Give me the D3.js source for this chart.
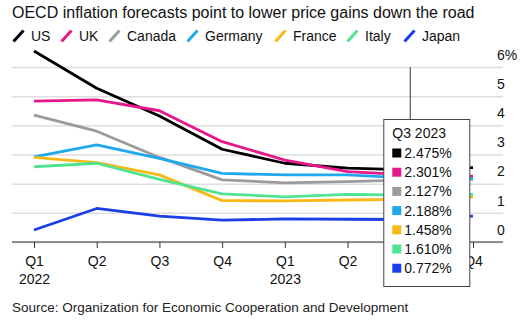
<!DOCTYPE html>
<html><head><meta charset="utf-8">
<script src="https://cdn.jsdelivr.net/npm/d3@7"></script>
<style>
body{margin:0;background:#fff;}
text{font-family:"Liberation Sans",Arial,Helvetica,sans-serif;}
</style></head>
<body>
<svg id="c" width="528" height="322"></svg>
<script>
const quarters = ["Q1 2022","Q2 2022","Q3 2022","Q4 2022","Q1 2023","Q2 2023","Q3 2023","Q4 2023"];
const tickTop = ["Q1","Q2","Q3","Q4","Q1","Q2","Q3","Q4"];
const tickBottom = ["2022","","","","2023","","",""];
const seriesNames = ["US","UK","Canada","Germany","France","Italy","Japan"];
const seriesColors = ["#000000","#e8178a","#9b9b9b","#1ea8ee","#f8b916","#4fe394","#1b3fe6"];
const US      = [6.55,5.27,4.32,3.18,2.70,2.53,2.475,2.55];
const UK      = [4.83,4.87,4.50,3.44,2.81,2.41,2.301,2.26];
const Canada  = [4.35,3.80,2.90,2.13,2.03,2.07,2.127,2.15];
const Germany = [2.92,3.33,2.87,2.35,2.30,2.30,2.188,2.18];
const France  = [2.90,2.72,2.30,1.42,1.41,1.44,1.458,1.55];
const Italy   = [2.58,2.70,2.15,1.65,1.55,1.63,1.610,1.63];
const Japan   = [0.41,1.15,0.89,0.75,0.79,0.78,0.772,0.89];
const yTicks = [0,1,2,3,4,5,6];
const hoverIndex = 6;
const seriesValues = [US,UK,Canada,Germany,France,Italy,Japan];

const svg = d3.select("#c");
const pLeft = 12, pRight = 503, pTop = 67, pBottom = 242;
const x = d3.scalePoint().domain(quarters).range([34,473]);
const y = d3.scaleLinear().domain([0,6]).range([pBottom, pTop]);

// title
svg.append("text").attr("x",12).attr("y",18).attr("font-size",16).attr("fill","#111")
  .text("OECD inflation forecasts point to lower price gains down the road");

// legend
const legendX = [12,60,108,186,274,346,403];
seriesNames.forEach((n,i)=>{
  const g = svg.append("g").attr("transform",`translate(${legendX[i]},36)`);
  g.append("line").attr("x1",1.5).attr("y1",5.5).attr("x2",11.5).attr("y2",-5.5)
    .attr("stroke",seriesColors[i]).attr("stroke-width",3);
  g.append("text").attr("x",19).attr("y",5).attr("font-size",14).attr("fill","#111").text(n);
});

// grid + y labels
const ya = svg.append("g").attr("transform",`translate(${pRight},0)`)
  .call(d3.axisRight(y).tickValues(yTicks).tickSize(-(pRight-pLeft))
    .tickFormat(d=> d===6 ? "6%" : String(d)));
ya.select(".domain").remove();
ya.selectAll(".tick line").attr("stroke","#dedede").attr("stroke-width",1.5);
ya.selectAll(".tick text").attr("x",-6).attr("dy","-0.55em").attr("text-anchor","start")
  .attr("font-size",14).attr("fill","#111").attr("font-family",'"Liberation Sans",Arial,sans-serif');

// x axis
const xa = svg.append("g").attr("transform",`translate(0,${pBottom})`)
  .call(d3.axisBottom(x).tickSize(6).tickFormat(()=>""));
xa.select(".domain").remove();
xa.selectAll(".tick line").attr("stroke","#333").attr("stroke-width",1);
xa.selectAll(".tick").each(function(d,i){
  if (i === hoverIndex) return; // hidden behind the tooltip in the reference
  const t = d3.select(this).append("text").attr("text-anchor","middle").attr("font-size",14)
    .attr("fill","#111").attr("font-family",'"Liberation Sans",Arial,sans-serif');
  t.append("tspan").attr("x",0).attr("y",24).text(tickTop[i]);
  if (tickBottom[i]) t.append("tspan").attr("x",0).attr("y",42).text(tickBottom[i]);
});
svg.append("line").attr("x1",pLeft).attr("x2",pRight).attr("y1",pBottom).attr("y2",pBottom)
  .attr("stroke","#333").attr("stroke-width",1.2);

// lines
const line = d3.line().x((d,i)=>x(quarters[i])).y(d=>y(d));
seriesValues.forEach((vals,i)=>{
  svg.append("path").datum(vals).attr("d",line).attr("fill","none")
    .attr("stroke",seriesColors[i]).attr("stroke-width",2.8)
    .attr("stroke-linejoin","round").attr("stroke-linecap","butt");
});

// tooltip
const hx = x(quarters[hoverIndex]);
const boxX = hx - 27, boxY = 119, boxW = 86, boxH = 167;
svg.append("line").attr("x1",hx).attr("x2",hx).attr("y1",pTop).attr("y2",boxY)
  .attr("stroke","#555").attr("stroke-width",1.2);
svg.append("rect").attr("x",boxX+0.5).attr("y",boxY+0.5).attr("width",boxW).attr("height",boxH)
  .attr("fill","#fff").attr("stroke","#444").attr("stroke-width",1);
svg.append("text").attr("x",boxX+9).attr("y",boxY+19).attr("font-size",14).attr("fill","#111")
  .text(quarters[hoverIndex]);
seriesValues.forEach((vals,i)=>{
  const cy = boxY + 34 + i*19.2;
  svg.append("rect").attr("x",boxX+9).attr("y",cy-4.5).attr("width",9).attr("height",9)
    .attr("fill",seriesColors[i]);
  svg.append("text").attr("x",boxX+21).attr("y",cy+5).attr("font-size",14).attr("fill","#111")
    .text(vals[hoverIndex].toFixed(3)+"%");
});

// source
svg.append("text").attr("x",12).attr("y",312).attr("font-size",13.5).attr("fill","#222")
  .text("Source: Organization for Economic Cooperation and Development");
</script>
</body></html>
